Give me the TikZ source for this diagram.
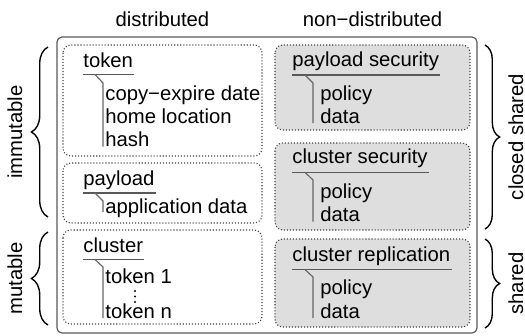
\documentclass[tikz,border=0pt]{standalone}
\usepackage{fontspec}
\setmainfont{Liberation Sans}
\usetikzlibrary{decorations.pathreplacing}
\tikzset{
  dbox/.style={draw=black!75, densely dotted, rounded corners=4pt, line width=0.55pt},
  gbox/.style={dbox, fill=black!13},
  outer/.style={draw=black!65, rounded corners=2.5pt, line width=0.6pt},
  txt/.style={anchor=base west, inner sep=0pt, font=\fontsize{10.4}{12}\selectfont},
  hdr/.style={anchor=base, inner sep=0pt, font=\fontsize{10.4}{12}\selectfont},
  side/.style={inner sep=0pt, rotate=90, font=\fontsize{10.4}{12}\selectfont},
  uline/.style={draw=black!65, line width=0.7pt},
  tree/.style={draw=black!60, line width=0.6pt},
  lbrace/.style={decorate, decoration={brace, amplitude=8.5pt}, line width=0.7pt},
  rbrace/.style={decorate, decoration={brace, amplitude=7.5pt}, line width=0.7pt},
}
\begin{document}
\begin{tikzpicture}[x=0.5128pt, y=-0.5128pt]
\useasboundingbox (0,0) rectangle (525,335);

% headers
\node[hdr] (hdist) at (162.5,26.5) {distributed};
\node[hdr] (hnon) at (372.5,26.5) {non−distributed};

% outer frame
\draw[outer] (57,37) rectangle (477,333);

% ---------- left column ----------
\draw[dbox] (63,45) rectangle (262,156);
\node[txt] (tok) at (83,67) {token};
\draw[uline] (tok.west |- 0,74.5) -- ([xshift=0.5pt]tok.east |- 0,74.5);
\node[txt] (tok1) at (105,100) {copy−expire date};
\node[txt] (tok2) at (105,123.3) {home location};
\node[txt] (tok3) at (105,146.7) {hash};
\draw[tree] (95,74.5) -- (103,83) -- (103,146.7);

\draw[dbox] (63,163) rectangle (262,223);
\node[txt] (pay) at (83,185.5) {payload};
\draw[uline] (pay.west |- 0,193) -- ([xshift=0.5pt]pay.east |- 0,193);
\node[txt] (pay1) at (105,213) {application data};
\draw[tree] (95,193) -- (103,201) -- (103,212);

\draw[dbox] (63,230) rectangle (262,324);
\node[txt] (clu) at (83,252.5) {cluster};
\draw[uline] (clu.west |- 0,259.5) -- ([xshift=0.5pt]clu.east |- 0,259.5);
\node[txt] (clu1) at (105,283) {token 1};
\node[txt] (clun) at (105,318) {token n};
\fill (135,291) circle (1.1) (135,296.5) circle (1.1) (135,302) circle (1.1);
\draw[tree] (95,259.5) -- (103,267) -- (103,318);

% ---------- right column ----------
\draw[gbox] (275,45) rectangle (470,130);
\node[txt] (ps) at (292,66.5) {payload security};
\draw[uline] (ps.west |- 0,75) -- ([xshift=0.5pt]ps.east |- 0,75);
\node[txt] (ps1) at (320,100) {policy};
\node[txt] (ps2) at (320,123) {data};
\draw[tree] (305,75) -- (313,83) -- (313,123);

\draw[gbox] (275,143) rectangle (470,230);
\node[txt] (cs) at (292,163.5) {cluster security};
\draw[uline] (cs.west |- 0,172.3) -- ([xshift=0.5pt]cs.east |- 0,172.3);
\node[txt] (cs1) at (320,198) {policy};
\node[txt] (cs2) at (320,221.5) {data};
\draw[tree] (305,172.3) -- (313,180) -- (313,221.5);

\draw[gbox] (275,239) rectangle (470,327);
\node[txt] (cr) at (292,261) {cluster replication};
\draw[uline] (cr.west |- 0,269.5) -- ([xshift=0.5pt]cr.east |- 0,269.5);
\node[txt] (cr1) at (320,294.5) {policy};
\node[txt] (cr2) at (320,318) {data};
\draw[tree] (305,269.5) -- (313,277) -- (313,318);

% ---------- braces ----------
\draw[lbrace] (48,217) -- (48,47);
\node[side] (imm) at (15,132) {immutable};
\draw[lbrace] (48,325) -- (48,232);
\node[side] (mut) at (15,278.5) {mutable};

\draw[rbrace] (485,45) -- (485,229);
\node[side] (cls) at (516,137) {closed shared};
\draw[rbrace] (485,239) -- (485,328);
\node[side] (shr) at (516,283.5) {shared};
\end{tikzpicture}
\end{document}
